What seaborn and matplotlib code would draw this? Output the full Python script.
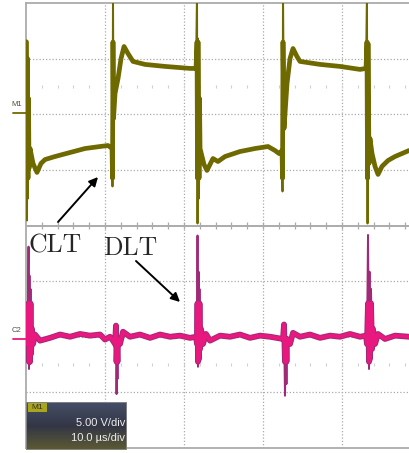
import numpy as np
import pandas as pd
import matplotlib
matplotlib.use("Agg")
import matplotlib.pyplot as plt
import seaborn as sns
from matplotlib.lines import Line2D
from matplotlib.patches import Rectangle

# ---- waveform data -------------------------------------------------------
# Channel M1: time (us) and voltage (V)
m1_t = [0.06, 0.13, 0.19, 0.25, 0.32, 0.38, 0.51, 0.89, 1.39, 1.90,
        2.41, 3.67, 5.57, 7.47, 9.37, 10.38, 10.89, 10.95, 11.01, 11.08,
        11.27, 11.65, 12.03, 12.41, 12.91, 13.54, 15.06, 17.59, 20.76, 21.52,
        21.65, 21.71, 21.77, 21.90, 21.96, 22.03, 22.53, 22.91, 23.29, 23.67,
        24.30, 25.19, 27.09, 28.99, 30.63, 31.52, 32.03, 32.41, 32.47, 32.53,
        32.66, 33.04, 33.42, 33.80, 34.30, 34.68, 37.22, 39.75, 42.28, 43.04,
        43.16, 43.23, 43.29, 43.42, 43.54, 43.80, 44.18, 44.56, 45.06, 45.82,
        46.71, 48.48]
m1_v = [6.38, -9.80, 4.76, -7.82, 1.17, -5.12, -3.33, -4.67, -5.48, -4.67,
        -4.32, -4.05, -3.69, -3.33, -3.15, -3.06, -3.33, -6.74, 11.0, -0.63,
        1.62, 2.97, 4.76, 5.84, 5.21, 4.50, 4.23, 4.05, 3.87, 3.87,
        11.0, -10.07, 6.56, -7.82, 1.17, -3.33, -4.76, -5.30, -4.76, -4.23,
        -4.50, -4.05, -3.60, -3.33, -3.15, -3.51, -3.78, -3.51, -7.19, 11.0,
        -1.53, 2.52, 4.76, 5.66, 4.94, 4.50, 4.23, 4.05, 3.78, 3.87,
        11.0, -10.07, 6.11, -4.67, -2.43, -3.78, -4.94, -5.66, -4.94, -4.41,
        -4.05, -3.51]

# Channel C2: time (us) and deflection (div, relative to its ground marker)
c2_t = [0.00, 0.13, 0.25, 0.32, 0.38, 0.44, 0.51, 0.57, 0.63, 0.76,
        0.89, 1.14, 1.77, 3.04, 4.30, 5.57, 6.84, 8.10, 9.37, 10.00,
        10.63, 11.01, 11.27, 11.39, 11.46, 11.52, 11.58, 11.65, 11.90, 12.28,
        13.16, 14.43, 15.70, 16.96, 18.23, 19.49, 20.76, 21.52, 21.65, 21.71,
        21.77, 21.84, 21.90, 21.96, 22.03, 22.15, 22.41, 22.78, 23.29, 24.56,
        25.82, 27.09, 28.35, 29.62, 30.89, 32.53, 32.66, 32.78, 32.91, 32.97,
        33.04, 33.42, 33.80, 34.68, 35.95, 37.22, 38.48, 39.75, 41.01, 42.28,
        43.04, 43.16, 43.29, 43.42, 43.48, 43.54, 43.67, 43.80, 43.92, 44.18,
        44.56, 45.44, 46.71, 48.48]
c2_d = [0.05, -0.13, 0.14, 1.62, -0.58, 1.10, -0.49, 0.86, -0.31, 0.14,
        -0.13, 0.04, -0.07, -0.02, 0.04, 0.00, 0.05, 0.02, 0.04, -0.05,
        0.00, -0.07, -0.13, 0.20, -1.03, -0.22, -0.76, -0.04, -0.13, 0.09,
        0.00, 0.04, -0.02, 0.04, 0.00, 0.02, -0.02, 0.00, -0.13, 1.82,
        -0.54, 1.17, -0.40, 0.86, -0.22, 0.14, -0.13, 0.05, -0.07, 0.02,
        0.00, 0.04, -0.02, 0.02, 0.00, -0.04, 0.22, -1.06, -0.13, -0.85,
        -0.04, -0.13, 0.07, 0.00, 0.04, -0.02, 0.02, 0.00, 0.05, 0.00,
        0.02, -0.13, 1.83, -0.58, 1.17, -0.40, 0.86, -0.22, 0.14, -0.13,
        0.05, -0.04, 0.02, 0.00]

M1_VDIV = 5.0       # V/div
M1_OFFSET = 2.05    # div above screen centre
C2_OFFSET = -2.0    # div below screen centre

OLIVE = "#6f6a00"
PINK = "#e8187f"
PURPLE = "#a02a78"
GRID = "#ababab"

# ---- figure ------------------------------------------------------------------
sns.set_theme(style="white")
plt.rcParams["font.family"] = ["Liberation Sans", "DejaVu Sans"]

W, H = 409, 453
fig = plt.figure(figsize=(W / 100, H / 100), dpi=100)
fig.patch.set_facecolor("white")


def fx(px):
    return px / W


def fy(py):
    return 1 - py / H


ax = fig.add_axes([fx(26), fy(448), fx(409) - fx(26), fy(3) - fy(448)])
ax.set_facecolor("white")
ax.set_xlim(0, 48.48)
ax.set_ylim(-4, 4)
ax.set_xticks([])
ax.set_yticks([])
for side in ("top", "left", "bottom"):
    ax.spines[side].set_color(GRID)
    ax.spines[side].set_linewidth(1.3)
ax.spines["right"].set_visible(False)

# graticule: dotted division lines, solid centre line with sub-division ticks
for xv in [10, 20, 30, 40]:
    ax.axvline(xv, color=GRID, lw=0.9, ls=(0, (1, 1.6)), zorder=1)
for yv in [-3, -2, -1, 1, 2, 3]:
    ax.axhline(yv, color=GRID, lw=0.9, ls=(0, (1, 1.6)), zorder=1)
ax.axhline(0, color=GRID, lw=1.4, zorder=1)
sub = np.arange(2, 48.5, 2)
ax.vlines(sub, -0.07, 0.07, color=GRID, lw=0.9, zorder=1)
for yv in [2.5, -2.5]:
    ax.vlines(sub, yv - 0.03, yv + 0.03, color="#d0d0d0", lw=0.8, zorder=1)

# traces: a thin stroke carries the full excursions, a wider stroke limited
# to the ringing range gives the trace body its width
m1_y = np.array(m1_v) / M1_VDIV + M1_OFFSET
c2_y = np.array(c2_d) + C2_OFFSET
df_m1 = pd.DataFrame({"t": m1_t, "y": m1_y})
df_m1_body = pd.DataFrame({"t": m1_t, "y": np.clip(m1_y, M1_OFFSET - 1.2, M1_OFFSET + 1.25)})
df_c2 = pd.DataFrame({"t": c2_t, "y": c2_y})
df_c2_body = pd.DataFrame({"t": c2_t, "y": np.clip(c2_y, C2_OFFSET - 0.45, C2_OFFSET + 0.6)})

sns.lineplot(data=df_m1, x="t", y="y", ax=ax, estimator=None, sort=False,
             color=OLIVE, linewidth=1.4, zorder=3)
sns.lineplot(data=df_m1_body, x="t", y="y", ax=ax, estimator=None, sort=False,
             color=OLIVE, linewidth=3.4, zorder=3)
sns.lineplot(data=df_c2, x="t", y="y", ax=ax, estimator=None, sort=False,
             color=PURPLE, linewidth=1.4, zorder=3)
sns.lineplot(data=df_c2_body, x="t", y="y", ax=ax, estimator=None, sort=False,
             color=PURPLE, linewidth=4.2, zorder=3)
sns.lineplot(data=df_c2_body, x="t", y="y", ax=ax, estimator=None, sort=False,
             color=PINK, linewidth=2.8, zorder=4)
ax.set_xlabel("")
ax.set_ylabel("")

# channel ground markers
fig.text(fx(11), fy(105), "M1", fontsize=5.5, color="#4d4d3a", va="center")
fig.add_artist(Line2D([fx(13), fx(26)], [fy(113), fy(113)], color=OLIVE, lw=1.3))
fig.text(fx(12), fy(331), "C2", fontsize=5.5, color="#4d4d4d", va="center")
fig.add_artist(Line2D([fx(13), fx(26)], [fy(339), fy(339)], color=PINK, lw=1.3))

# annotations
fig.text(fx(28), fy(253), "CLT", fontsize=18.5, family="cmr10", va="baseline")
fig.text(fx(103), fy(255), "DLT", fontsize=18.5, family="cmr10", va="baseline")
arrow = dict(arrowstyle="-|>", color="black", lw=1.4, mutation_scale=13,
             shrinkA=0, shrinkB=0)
ax.annotate("", xy=(98, H - 177), xytext=(58, H - 222),
            xycoords="figure pixels", textcoords="figure pixels", arrowprops=arrow)
ax.annotate("", xy=(180, H - 302), xytext=(136, H - 261),
            xycoords="figure pixels", textcoords="figure pixels", arrowprops=arrow)

# scale readout box
bax = fig.add_axes([fx(26), fy(450), fx(127) - fx(26), fy(402) - fy(450)])
bax.set_axis_off()
top = np.array([0x45, 0x4f, 0x68]) / 255
mid = np.array([0x33, 0x36, 0x45]) / 255
bot = np.array([0x5c, 0x5a, 0x34]) / 255
s = np.linspace(0, 1, 64)[:, None]
grad = np.where(s < 0.5, top + (mid - top) * (s / 0.5), mid + (bot - mid) * ((s - 0.5) / 0.5))
bax.imshow(grad[:, None, :], aspect="auto", extent=[0, 1, 0, 1], origin="upper")
bax.set_xlim(0, 1)
bax.set_ylim(0, 1)
bax.add_patch(Rectangle((0, 0), 1, 1, fill=False, edgecolor="#8c8c8c", lw=1.2))
bax.add_patch(Rectangle((0.02, 0.79), 0.19, 0.19, color="#aaa51e", lw=0))
bax.text(0.115, 0.885, "M1", fontsize=6, color="#333320", ha="center", va="center")
bax.text(0.985, 0.56, "5.00 V/div", fontsize=8, color="#ececec", ha="right", va="center")
bax.text(0.985, 0.25, "10.0 µs/div", fontsize=8, color="#ececec", ha="right", va="center")

fig.savefig("out.png", dpi=100, facecolor="white")
